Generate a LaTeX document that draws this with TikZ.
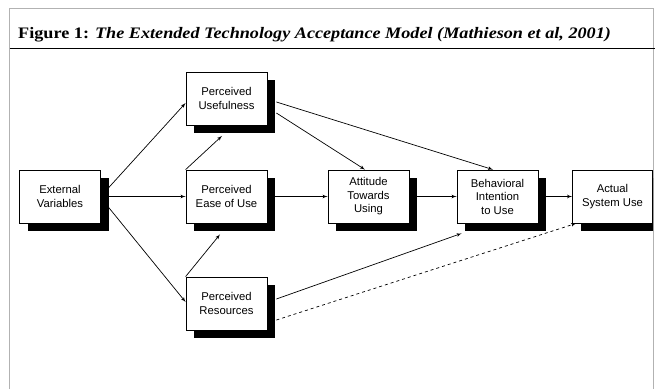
\documentclass[tikz,border=0pt]{standalone}
\usepackage{fontspec}
\setmainfont{Liberation Serif}
\newfontfamily\boxfont{Liberation Sans}
\usetikzlibrary{positioning,calc}
\usetikzlibrary{arrows,shadows}

\tikzset{
	box/.style = {draw, fill = white, line width = 0.8pt, minimum width = 81pt, minimum height = 53pt,
		align = center, inner sep = 1pt, font = \boxfont\fontsize{11.3}{13.5}\selectfont,
		drop shadow = {shadow xshift = 8pt, shadow yshift = -8pt, fill = black, opacity = 1}},
	link/.style = {->, line width = 0.7pt},
	frameline/.style = {draw = black!30, line width = 0.8pt}
}

\begin{document}
\begin{tikzpicture}[x = 1pt, y = -1pt, >=latex']
\useasboundingbox [fill = white] (0, 0) rectangle (657, 389);

\draw [frameline] (9.5, 389) -- (9.5, 8) -- (653.5, 8) -- (653.5, 389);
\draw [line width = 0.9pt] (9.5, 48) -- (654.5, 48);
\node [anchor = base west, inner sep = 0pt, xscale = 1.136, font = \fontsize{16}{18}\selectfont] (title) at (18, 38)
	{\textbf{Figure 1:} \textbf{\textit{The Extended Technology Acceptance Model (Mathieson et al, 2001)}}};

\begin{scope}
	\clip (10, 48.5) rectangle (653, 389);
	\node [box] (ev) at (60, 196.5) {External\\Variables};
	\node [box] (pu) at (226.5, 98.5) {Perceived\\Usefulness};
	\node [box] (peou) at (226.5, 196.5) {Perceived\\Ease of Use};
	\node [box] (pr) at (226.5, 303.5) {Perceived\\Resources};
	\node [box] (atu) at (368.5, 196.5) {Attitude\\Towards\\Using};
	\node [box] (bi) at (497.5, 196.5) {Behavioral\\Intention\\to Use};
	\node [box, minimum width = 80pt] (asu) at (612.5, 196.5) {Actual\\System Use};
\end{scope}

\draw [link] ([xshift = 7pt, yshift = 8pt]ev.east)  --  ([yshift = -4.5pt]pu.west);
\draw [link] ([xshift = 7pt]ev.east)  --  (peou.west);
\draw [link] ([xshift = 7pt, yshift = -10pt]ev.east)  --  ([yshift = 1.5pt]pr.west);
\draw [link] (peou.north west)  --  ([xshift = -4.5pt, yshift = -10.5pt]pu.south);
\draw [link] (pr.north west)  --  ([xshift = -6.5pt, yshift = -11pt]peou.south);
\draw [link] ([xshift = 8pt]peou.east)  --  (atu.west);
\draw [link] ([xshift = 8pt]atu.east)  --  (bi.west);
\draw [link] ([xshift = 8pt]bi.east)  --  (asu.west);
\draw [link] ([xshift = 9pt, yshift = -14.5pt]pu.east)  --  ([xshift = -3.5pt]atu.north);
\draw [link] ([xshift = 9pt, yshift = -3.5pt]pu.east)  --  ([xshift = -4.5pt]bi.north);
\draw [link] ([xshift = 9pt, yshift = 4.5pt]pr.east)  --  ([xshift = 5pt, yshift = -10pt]bi.south west);
\draw [link, dashed] ([xshift = 9pt, yshift = -16.5pt]pr.east)  --  ([xshift = 4pt]asu.south west);

\end{tikzpicture}
\end{document}
